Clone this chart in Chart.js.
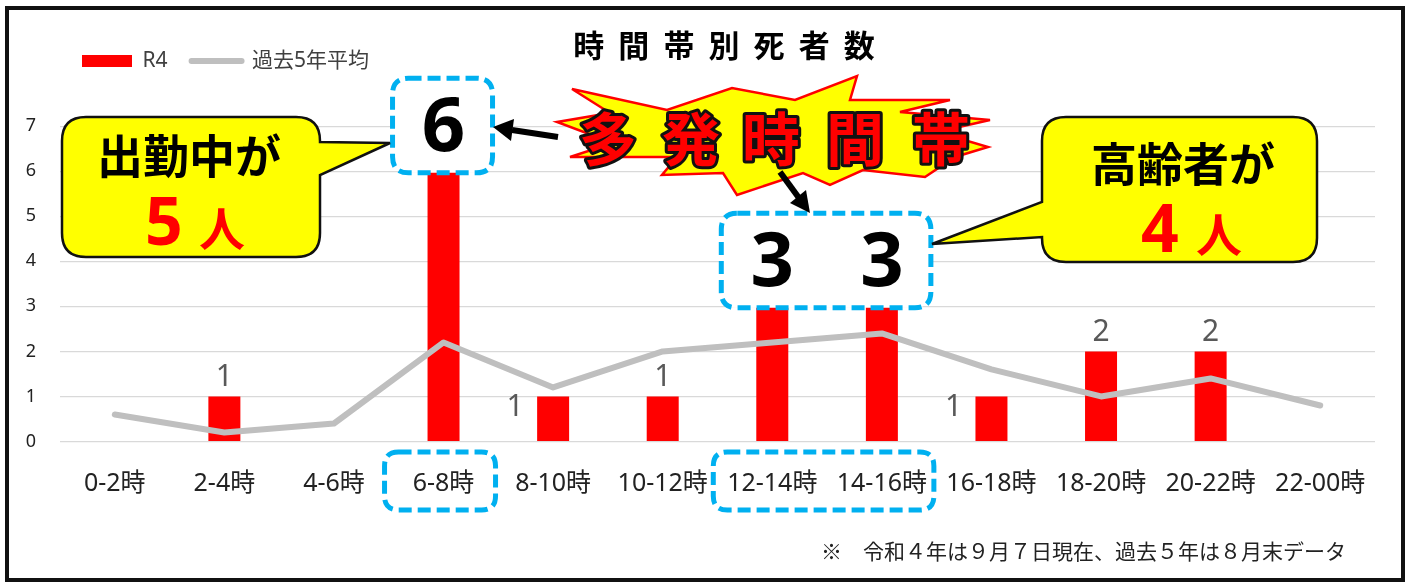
<!DOCTYPE html>
<html><head><meta charset="utf-8">
<script src="https://cdn.jsdelivr.net/npm/chart.js@4"></script>
<style>
html,body{margin:0;padding:0;background:#fff;}
#wrap{position:relative;width:1410px;height:583px;overflow:hidden;font-family:'Noto Sans CJK JP',sans-serif;}
#c{position:absolute;left:0;top:0;}
#frame{position:absolute;left:5px;top:6px;width:1392px;height:568px;border:4px solid #111;pointer-events:none;}
#ov{position:absolute;left:0;top:0;pointer-events:none;}
.note{position:absolute;left:821px;top:536px;font-size:21px;line-height:28px;color:#222;white-space:nowrap;font-family:'Noto Sans CJK JP',sans-serif;}
</style></head>
<body>
<div id="wrap">
<canvas id="c" width="1410" height="583"></canvas>
<svg id="ov" width="1410" height="583" xmlns="http://www.w3.org/2000/svg">
  <!-- starburst -->
  <polygon points="572,89 667,110 732,88 795,100 857,76 850,100 950,100 900,112 990,120 937,132 988,147 955,157 925,177 863,170 830,185 803,173 737,195 723,173 662,175 677,157 570,157 613,143 557,122 610,113"
     fill="#FFFF00" stroke="#FF0000" stroke-width="2.5" stroke-linejoin="miter"/>
  <text x="608 691 771 855 941" y="136" font-family="'Noto Sans CJK JP'" font-weight="bold" font-size="58" text-anchor="middle" dominant-baseline="central"
     fill="#FF0000" stroke="#111" stroke-width="6" stroke-linejoin="round" paint-order="stroke">多発時間帯</text>
  <!-- arrows -->
  <line x1="558" y1="137" x2="512" y2="130" stroke="#000" stroke-width="6"/>
  <polygon points="493,127 514,119 511,141" fill="#000"/>
  <line x1="780" y1="172" x2="799" y2="198" stroke="#000" stroke-width="6"/>
  <polygon points="810,213 806,190 790,203" fill="#000"/>
  <!-- left callout -->
  <path d="M 86 117 H 296 Q 320 117 320 141 V 142 L 390 143 L 320 175 V 233 Q 320 257 296 257 H 86 Q 62 257 62 233 V 141 Q 62 117 86 117 Z"
     fill="#FFFF00" stroke="#111" stroke-width="2.5"/>
  <text x="189" y="153" font-family="'Noto Sans CJK JP'" font-weight="bold" font-size="46" text-anchor="middle" dominant-baseline="central" fill="#000">出勤中が</text>
  <text x="164" y="219" font-family="'Noto Sans','Noto Sans CJK JP'" font-weight="bold" font-size="66" text-anchor="middle" dominant-baseline="central" fill="#FF0000">5</text>
  <text x="222" y="226" font-family="'Noto Sans CJK JP'" font-weight="bold" font-size="46" text-anchor="middle" dominant-baseline="central" fill="#FF0000">人</text>
  <!-- right callout -->
  <path d="M 1066 117 H 1293 Q 1317 117 1317 141 V 238 Q 1317 262 1293 262 H 1066 Q 1042 262 1042 238 V 237 L 932 244 L 1042 202 V 141 Q 1042 117 1066 117 Z"
     fill="#FFFF00" stroke="#111" stroke-width="2.5"/>
  <text x="1183" y="161" font-family="'Noto Sans CJK JP'" font-weight="bold" font-size="46" text-anchor="middle" dominant-baseline="central" fill="#000">高齢者が</text>
  <text x="1160" y="226" font-family="'Noto Sans','Noto Sans CJK JP'" font-weight="bold" font-size="66" text-anchor="middle" dominant-baseline="central" fill="#FF0000">4</text>
  <text x="1219" y="232" font-family="'Noto Sans CJK JP'" font-weight="bold" font-size="46" text-anchor="middle" dominant-baseline="central" fill="#FF0000">人</text>
</svg>
<div class="note">※　令和４年は９月７日現在、過去５年は８月末データ</div>
<div id="frame"></div>
</div>
<script>
const categories = ['0-2時','2-4時','4-6時','6-8時','8-10時','10-12時','12-14時','14-16時','16-18時','18-20時','20-22時','22-00時'];
const r4Values = [0, 1, 0, 6, 1, 1, 3, 3, 1, 2, 2, 0];
const avg5Values = [0.6, 0.2, 0.4, 2.2, 1.2, 2.0, 2.2, 2.4, 1.6, 1.0, 1.4, 0.8];
const seriesNames = ['R4', '過去5年平均'];
const chartTitle = '時  間  帯  別  死  者  数';
const labelModes = ['none','top','none','big','left','top','big','big','left','top','top','none'];
const bigGroups = [[3,3],[6,7]];
const tickBoxGroups = [[3,3],[6,7]];

Chart.defaults.font.family = "'Noto Sans','Noto Sans CJK JP',sans-serif";
Chart.defaults.animation = false;

function rrect(ctx, x, y, w, h, r) {
  ctx.beginPath();
  ctx.moveTo(x + r, y);
  ctx.lineTo(x + w - r, y);
  ctx.quadraticCurveTo(x + w, y, x + w, y + r);
  ctx.lineTo(x + w, y + h - r);
  ctx.quadraticCurveTo(x + w, y + h, x + w - r, y + h);
  ctx.lineTo(x + r, y + h);
  ctx.quadraticCurveTo(x, y + h, x, y + h - r);
  ctx.lineTo(x, y + r);
  ctx.quadraticCurveTo(x, y, x + r, y);
  ctx.closePath();
}

const placePlugin = {
  id: 'place',
  afterLayout(chart) {
    const lg = chart.legend;
    if (lg) {
      const pad = lg.options.labels.padding;
      const fs = lg.options.labels.font.size;
      const dx = 82 - (lg.left + pad);
      const newTop = 61 - fs / 2 - pad;
      const h = lg.bottom - lg.top;
      lg.left += dx; lg.right += dx;
      lg.top = newTop; lg.bottom = newTop + h;
    }
    const tb = chart.titleBlock;
    if (tb) {
      const dx = 724 - (tb.left + tb.right) / 2;
      tb.left += dx; tb.right += dx;
    }
  }
};

const labelPlugin = {
  id: 'valueLabels',
  afterDatasetsDraw(chart) {
    const ctx = chart.ctx;
    const meta = chart.getDatasetMeta(0);
    const xs = chart.scales.x;
    ctx.save();
    ctx.setLineDash([13, 6]);
    ctx.lineWidth = 5;
    ctx.strokeStyle = '#00B0F0';
    bigGroups.forEach(([a, b]) => {
      const pa = meta.data[a].getProps(['x','y'], true);
      const pb = meta.data[b].getProps(['x','y'], true);
      const top = Math.min(pa.y, pb.y) - 93;
      const bottom = Math.min(pa.y, pb.y) + 1.5;
      const left = pa.x - 51, right = pb.x + 49;
      rrect(ctx, left, top, right - left, bottom - top, 16);
      ctx.fillStyle = '#fff';
      ctx.fill();
      ctx.stroke();
    });
    tickBoxGroups.forEach(([a, b]) => {
      const xa = xs.getPixelForValue(a), xb = xs.getPixelForValue(b);
      const top = xs.top + 10.5, bottom = xs.top + 68.5;
      rrect(ctx, xa - 59, top, xb - xa + 111, bottom - top, 14);
      ctx.stroke();
    });
    ctx.setLineDash([]);
    meta.data.forEach((bar, i) => {
      const mode = labelModes[i];
      const v = r4Values[i];
      const p = bar.getProps(['x','y'], true);
      ctx.textAlign = 'center';
      ctx.textBaseline = 'alphabetic';
      if (mode === 'top') {
        ctx.font = "30px 'Noto Sans'";
        ctx.fillStyle = '#595959';
        ctx.fillText(String(v), p.x, p.y - 10);
      } else if (mode === 'left') {
        ctx.font = "30px 'Noto Sans'";
        ctx.fillStyle = '#595959';
        ctx.fillText(String(v), p.x - 38, p.y + 20);
      } else if (mode === 'big') {
        ctx.font = "bold 76px 'Noto Sans'";
        ctx.fillStyle = '#000';
        ctx.fillText(String(v), p.x, p.y - 47 + 27);
      }
    });
    ctx.restore();
  }
};

new Chart(document.getElementById('c'), {
  data: {
    labels: categories,
    datasets: [
      {
        type: 'bar', label: seriesNames[0], data: r4Values,
        backgroundColor: '#FF0000', borderWidth: 0,
        barPercentage: 0.292, categoryPercentage: 1.0, order: 1
      },
      {
        type: 'line', label: seriesNames[1], data: avg5Values,
        borderColor: '#BFBFBF', backgroundColor: '#BFBFBF', borderWidth: 6,
        pointRadius: 0, tension: 0, borderCapStyle: 'round', borderJoinStyle: 'round', order: 0
      }
    ]
  },
  options: {
    responsive: false,
    devicePixelRatio: 1,
    layout: { padding: { left: 10, right: 35, top: 10, bottom: 61.5 } },
    scales: {
      x: {
        grid: { display: false, drawTicks: false },
        border: { display: false },
        ticks: { color: '#222', font: { size: 25 }, padding: 27, maxRotation: 0, autoSkip: false },
        afterFit(s) { s.height = 80; }
      },
      y: {
        min: 0, max: 7,
        grid: { color: '#D9D9D9', lineWidth: 1.2, drawTicks: false },
        border: { display: false },
        ticks: { stepSize: 1, color: '#222', font: { size: 18 }, padding: 24 },
        afterFit(s) { s.width = 50; }
      }
    },
    plugins: {
      title: {
        display: true, text: chartTitle, color: '#000',
        font: { size: 31, weight: 'bold', family: "'Noto Sans CJK JP'" },
        padding: { top: 17, bottom: 7 }
      },
      legend: {
        display: true, position: 'top', align: 'start', maxHeight: 60,
        labels: {
          usePointStyle: true, pointStyleWidth: 50, boxHeight: 12, padding: 24,
          color: '#404040', font: { size: 21 },
          sort: (a, b) => a.datasetIndex - b.datasetIndex,
          generateLabels(chart) {
            const items = Chart.defaults.plugins.legend.labels.generateLabels(chart);
            items.forEach(it => {
              if (it.datasetIndex === 0) {
                it.pointStyle = 'rect'; it.lineWidth = 0;
                it.fillStyle = '#FF0000'; it.strokeStyle = '#FF0000';
              } else {
                it.pointStyle = 'line'; it.lineWidth = 6; it.lineCap = 'round';
                it.strokeStyle = '#BFBFBF'; it.fillStyle = '#BFBFBF';
              }
            });
            return items;
          }
        }
      },
      tooltip: { enabled: false }
    }
  },
  plugins: [placePlugin, labelPlugin]
});
</script>
</body></html>
